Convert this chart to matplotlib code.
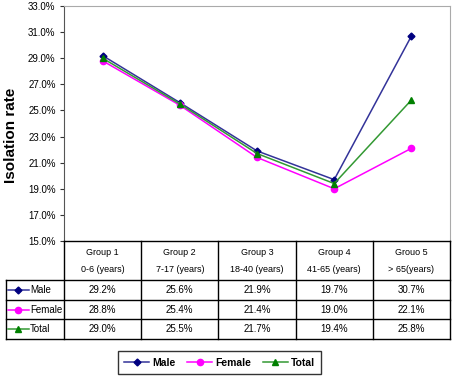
import matplotlib.pyplot as plt

plt.rcParams['font.family'] = ['Liberation Sans', 'DejaVu Sans']

groups = ['Group 1', 'Group 2', 'Group 3', 'Group 4', 'Grouo 5']
ages = ['0-6 (years)', '7-17 (years)', '18-40 (years)', '41-65 (years)', '> 65(years)']
male = [29.2, 25.6, 21.9, 19.7, 30.7]
female = [28.8, 25.4, 21.4, 19.0, 22.1]
total = [29.0, 25.5, 21.7, 19.4, 25.8]

series = [
    ('Male', male, '#333399', '#000080', 'D', 3.5),
    ('Female', female, '#ff00ff', '#ff00ff', 'o', 4.5),
    ('Total', total, '#339933', '#008000', '^', 4.5),
]

fig = plt.figure(figsize=(4.54, 3.8), dpi=100)

# main plot area
ax = fig.add_axes([0.1410, 0.3658, 0.8502, 0.6184])
x = list(range(len(groups)))
handles = []
for name, vals, lc, mc, mk, ms in series:
    h, = ax.plot(x, vals, color=lc, lw=1.1, marker=mk, markersize=ms,
                 markerfacecolor=mc, markeredgecolor=mc)
    handles.append(h)

ax.set_xlim(-0.5, 4.5)
ax.set_ylim(15, 33)
ax.set_yticks([15, 17, 19, 21, 23, 25, 27, 29, 31, 33])
ax.set_yticklabels(['%.1f%%' % v for v in ax.get_yticks()], fontsize=7)
ax.set_xticks([])
ax.tick_params(axis='y', length=3, width=0.8, colors='#333333', pad=3)
for lab in ax.get_yticklabels():
    lab.set_color('black')
ax.spines['left'].set_color('#555555')
ax.spines['top'].set_color('#aaaaaa')
ax.spines['right'].set_color('#aaaaaa')
ax.spines['bottom'].set_visible(False)
ax.set_ylabel('Isolation rate', fontsize=11, fontweight='bold')
ax.yaxis.set_label_coords(-0.12, 0.45)

# data table below the plot
tax = fig.add_axes([0.1410, 0.1079, 0.8502, 0.2579])
tax.set_xlim(-0.5, 4.5)
tax.set_ylim(5, 0)
tax.axis('off')
left = -1.25
kw = dict(color='black', lw=1.0, clip_on=False)
tax.plot([-0.5, 4.5], [0, 0], **kw)
for yy in [2, 3, 4, 5]:
    tax.plot([left, 4.5], [yy, yy], **kw)
tax.plot([left, left], [2, 5], **kw)
for xx in [-0.5, 0.5, 1.5, 2.5, 3.5, 4.5]:
    tax.plot([xx, xx], [0, 5], **kw)

for i in x:
    tax.text(i, 0.6, groups[i], ha='center', va='center', fontsize=6.5)
    tax.text(i, 1.45, ages[i], ha='center', va='center', fontsize=6.5)
for r, (name, vals, lc, mc, mk, ms) in enumerate(series):
    yc = 2.5 + r
    for i in x:
        tax.text(i, yc, '%.1f%%' % vals[i], ha='center', va='center', fontsize=7)
    tax.plot([left + 0.03, left + 0.29], [yc, yc], color=lc, lw=1.1, clip_on=False)
    tax.plot([left + 0.16], [yc], marker=mk, markersize=ms, color=mc, clip_on=False)
    tax.text(left + 0.31, yc, name, ha='left', va='center', fontsize=7)

leg = fig.legend(handles, [s[0] for s in series], loc='center',
                 bbox_to_anchor=(0.4835, 0.046), ncol=3, frameon=True,
                 fancybox=False, edgecolor='black', handlelength=2.4,
                 columnspacing=1.1, handletextpad=0.3, borderpad=0.6,
                 borderaxespad=0, prop={'weight': 'bold', 'size': 7.5})
leg.get_frame().set_linewidth(1.0)

fig.savefig('out.png', dpi=100)
